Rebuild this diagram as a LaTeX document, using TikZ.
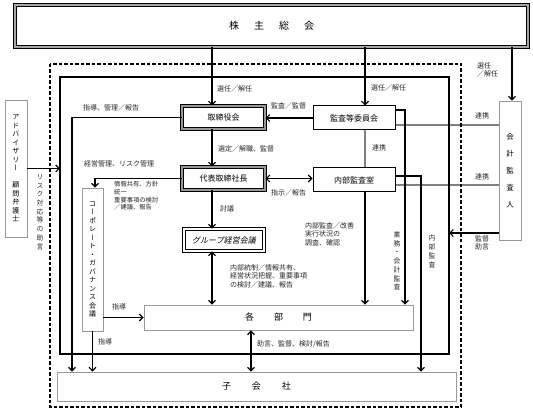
\documentclass[tikz,border=0pt]{standalone}
\usepackage{fontspec}
\setmainfont{Noto Sans CJK JP}
\newfontfamily\tatefont[RawFeature=+vert]{Noto Sans CJK JP}
\newfontfamily\slantfont[FakeSlant=0.2]{Noto Sans CJK JP}
\usetikzlibrary{arrows.meta}
\tikzset{
  heavybox/.style={draw=black, line width=1pt, double=black!40, double distance=2.2pt, inner sep=0pt, font=\fontsize{8}{10}\selectfont},
  ringbox/.style={draw=black, line width=0.9pt, double=white, double distance=1.4pt, inner sep=0pt, font=\slantfont\fontsize{8}{10}\selectfont},
  plainbox/.style={draw=black, line width=1pt, inner sep=0pt, font=\fontsize{8}{10}\selectfont},
  greybox/.style={draw=black!40, line width=0.9pt, inner sep=0pt, font=\fontsize{9}{11}\selectfont},
  lbl/.style={font=\fontsize{7}{8.5}\selectfont, text=black!85, inner sep=0pt, align=left},
  tate/.style={font=\tatefont\fontsize{7}{8.5}\selectfont, align=center, inner sep=0pt},
  arr/.style={line width=1.1pt, -{Straight Barb[length=3.5pt,width=7pt]}},
  darr/.style={line width=1.1pt, {Straight Barb[length=3.5pt,width=7pt]}-{Straight Barb[length=3.5pt,width=7pt]}},
  link/.style={draw=black!50, line width=1.6pt}
}

\begin{document}
\begin{tikzpicture}[x=1pt, y=-1pt]
			%%%%% START %%%%%
			\useasboundingbox (0,0) rectangle (533,414);
			
			\coordinate (colA) at (212,0);
			\coordinate (colB) at (365,0);
			\coordinate (colC) at (512,0);
			\coordinate (colE) at (405,0);
			\coordinate (colF) at (421,0);
			\coordinate (colK) at (251,0);
			\coordinate (colL) at (72,0);
			\coordinate (colM) at (95,0);
			\coordinate (inL) at (60,0);
			\coordinate (inR) at (449,0);
			
			\node[heavybox, double=black!35, minimum width=513, minimum height=42, font=\fontsize{10}{12}\selectfont] (soukai) at (271.5,26) {株\hspace{15pt}主\hspace{15pt}総\hspace{15pt}会};
			
			\node[heavybox, minimum width=83, minimum height=23] (torishimari) at (223.5,117.5) {取締役会};
			\node[heavybox, minimum width=83, minimum height=23] (daihyo) at (223.5,178.5) {代表取締社長};
			\node[ringbox, minimum width=80, minimum height=22] (group) at (224,240) {グループ経営会議};
			\node[plainbox, minimum width=82, minimum height=24] (kansa) at (354,118) {監査等委員会};
			\node[plainbox, minimum width=82, minimum height=24] (naibu) at (354,180) {内部監査室};
			
			\node[greybox, minimum width=269, minimum height=25] (kakubu) at (278.5,317.5) {各\hspace{20pt}部\hspace{20pt}門};
			\node[greybox, minimum width=399, minimum height=29] (kogaisha) at (256.5,386.5) {子\hspace{21pt}会\hspace{21pt}社};
			\node[greybox, tate, minimum width=21, minimum height=143] (cg) at (92.5,259.5) {コ\\ー\\ポ\\レ\\ー\\ト\\・\\ガ\\バ\\ナ\\ン\\ス\\会\\議};
			\node[greybox, tate, minimum width=22, minimum height=137] (adv) at (16,168.5) {ア\\ド\\バ\\イ\\ザ\\リ\\ー\\[8.5pt]顧\\問\\弁\\護\\士};
			\node[greybox, tate, font=\tatefont\fontsize{7.5}{17}\selectfont, minimum width=22, minimum height=139] (kaikei) at (510,170.5) {会\\計\\監\\査\\人};
			
			% gray links
			\draw[link] (kansa.south -| colB) -- (naibu.north -| colB);
			\draw[link] ([yshift=-7pt]kansa.east) coordinate (k1) -- (k1 -| kaikei.west);
			\draw[link] ([yshift=-5pt]naibu.east) coordinate (k2) -- (k2 -| kaikei.west);
			
			\draw[dashed, line width=1.1pt, dash pattern=on 3.5pt off 2pt] (50,64) rectangle (461,407);
			\draw[line width=1.4pt] (60,77) rectangle (449,354);
			
			% arrows
			\draw[arr] (soukai.south -| colA) -- (torishimari.north -| colA);
			\draw[arr] (soukai.south -| colB) -- (kansa.north -| colB);
			\draw[arr] (soukai.south -| colC) -- (kaikei.north -| colC);
			\draw[arr] (torishimari.south -| colA) -- (daihyo.north -| colA);
			\draw[arr] (daihyo.south -| colA) -- (group.north -| colA);
			\draw[darr] (group.south -| colA) -- (kakubu.north -| colA);
			\draw[arr] (kansa.west) -- (kansa.west -| torishimari.east);
			\draw[darr] (daihyo.east) -- (daihyo.east -| naibu.west);
			\draw[arr] (naibu.south -| colB) -- (kakubu.north -| colB);
			\draw[arr] ([yshift=8pt]kansa.east) -| (kakubu.north -| colE);
			\draw[arr] ([yshift=4pt]naibu.east) -| (kogaisha.north -| colF);
			\draw[arr] ([yshift=-62.5pt]kaikei.west) coordinate (k3) -- (k3 -| inR);
			\draw[arr] (torishimari.west) -| (kogaisha.north -| colL);
			\draw[arr] (daihyo.west) -| (cg.north -| colM);
			\draw[arr] (cg.east |- kakubu.west) -- (kakubu.west);
			\draw[arr] (cg.south) -- (cg.south |- kogaisha.north);
			\draw[darr] (kakubu.south -| colK) -- (kogaisha.north -| colK);
			\draw[arr] (adv.east) -- (adv.east -| inL);
			
			% labels
			\node[lbl, anchor=west] (l1) at (217,89) {選任／解任};
			\node[lbl, anchor=west] (l2) at (371,88) {選任／解任};
			\node[lbl, anchor=north west] (l3) at (477,62) {選任\\／解任};
			\node[lbl, anchor=west] (l4) at (83,108) {指導、管理／報告};
			\node[lbl, anchor=west] (l5) at (271,106) {監査／監督};
			\node[lbl, anchor=west] (l6) at (218,149) {選定／解職、監督};
			\node[lbl, anchor=west] (l7) at (372,148) {連携};
			\node[lbl, anchor=west] (l8) at (475,116) {連携};
			\node[lbl, anchor=west] (l9) at (475,177) {連携};
			\node[lbl, anchor=west] (l10) at (84,164) {経営管理、リスク管理};
			\node[lbl, anchor=west] (l11) at (271,193) {指示／報告};
			\node[lbl, anchor=north west, font=\fontsize{6.3}{7.8}\selectfont] (l12) at (114,181) {情報共有、方針\\統一\\重要事項の検討\\／建議、報告};
			\node[lbl, anchor=west] (l13) at (220,209) {討議};
			\node[lbl, anchor=north west] (l14) at (305,222) {内部監査／改善\\実行状況の\\調査、確認};
			\node[lbl, anchor=north west] (l15) at (475,235) {監督\\助言};
			\node[lbl, anchor=north west] (l16) at (230,264) {内部統制／情報共有、\\経営状況把握、重要事項\\の検討／建議、報告};
			\node[lbl, anchor=west] (l17) at (112,307) {指導};
			\node[lbl, anchor=west] (l18) at (98,342) {指導};
			\node[lbl, anchor=west] (l19) at (257,344) {助言、監督、検討/報告};
			\node[tate, font=\tatefont\fontsize{6.8}{8.7}\selectfont, text=black!85] (l20) at (397,261) {業\\務\\・\\会\\計\\監\\査};
			\node[tate, font=\tatefont\fontsize{6.8}{9}\selectfont, text=black!85] (l21) at (432,251) {内\\部\\監\\査};
			\node[tate, font=\tatefont\fontsize{6.8}{8.7}\selectfont, text=black!85] (l22) at (40,212) {リ\\ス\\ク\\対\\応\\等\\の\\助\\言};
			%%%%% END %%%%%
\end{tikzpicture}
\end{document}
